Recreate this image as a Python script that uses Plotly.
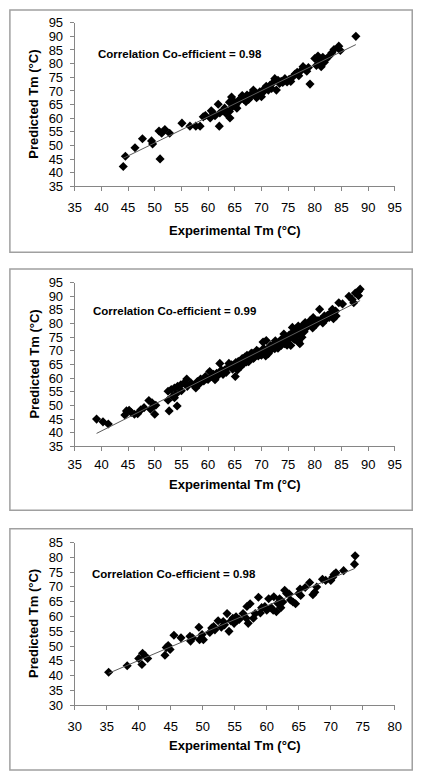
import numpy as np
import plotly.graph_objects as go

W, H = 426, 782

# ---------------- data ----------------
exp1 = [44.1, 44.5, 46.3, 47.7, 49.4, 49.6, 50.8, 51.0, 51.9, 51.3, 52.8, 55.1, 56.6, 57.7, 58.5,
        59.1, 59.5, 60.4, 60.6, 61.0, 61.3, 61.9, 62.1, 62.2, 62.8, 63.1, 63.4, 64.0, 64.1, 64.0,
        64.4, 64.6, 64.6, 64.9, 65.2, 65.4, 65.7, 65.9, 66.4, 66.7, 67.1, 67.3, 67.6, 67.9, 68.2,
        68.5, 68.8, 69.1, 69.4, 69.7, 70.0, 70.3, 70.6, 70.9, 71.3, 71.6, 71.9, 72.2, 72.5, 72.8,
        73.1, 73.4, 73.7, 74.0, 74.4, 74.8, 75.2, 75.5, 75.8, 76.3, 76.7, 77.0, 77.4, 77.8, 78.2,
        78.5, 78.8, 79.1, 80.0, 80.3, 80.6, 81.0, 81.2, 81.5, 81.8, 82.1, 82.7, 83.2, 83.6, 84.5,
        84.8, 87.7]
pred1 = [42.3, 46.1, 49.2, 52.5, 51.7, 50.6, 55.3, 45.1, 55.9, 54.5, 54.5, 58.2, 57.1, 57.1, 57.1,
         60.5, 61.0, 60.1, 62.7, 61.8, 60.9, 65.1, 57.1, 61.9, 62.7, 63.7, 61.7, 62.5, 60.1, 65.9,
         67.8, 64.3, 66.7, 65.5, 64.9, 63.7, 66.1, 66.9, 68.3, 66.9, 66.1, 68.5, 66.9, 67.9, 69.1,
         70.3, 69.1, 67.5, 68.5, 69.7, 67.9, 69.5, 70.9, 71.7, 70.3, 72.1, 70.9, 73.1, 74.5, 70.3,
         73.9, 72.7, 73.5, 73.1, 74.5, 73.3, 74.3, 73.5, 75.0, 76.2, 76.8, 75.6, 77.4, 78.9, 78.0,
         77.2, 78.6, 72.5, 81.9, 79.3, 82.8, 81.1, 78.9, 82.3, 80.5, 81.6, 82.8, 84.0, 85.2, 86.4,
         84.8, 90.0]

exp2 = [39.1, 40.3, 41.3, 44.4, 44.7, 45.2, 45.6, 46.2, 46.8, 47.4, 48.0, 48.9, 49.2, 49.5, 49.8,
        50.0, 50.2, 52.5, 52.7, 54.2, 52.5, 53.1, 53.4, 53.7, 54.0, 53.7, 54.3, 54.9, 55.5, 56.0,
        56.1, 56.8, 57.4, 57.7, 58.0, 58.6, 59.2, 59.5, 59.8, 60.3, 60.7, 61.0, 61.3, 61.6, 62.2,
        62.5, 62.8, 63.1, 63.4, 63.9, 64.2, 64.6, 64.9, 65.1, 65.2, 65.5, 65.8, 66.1, 66.4, 66.7,
        67.0, 67.3, 67.6, 67.9, 68.2, 68.5, 68.8, 69.1, 69.4, 69.7, 70.0, 70.3, 70.6, 70.9, 71.3,
        71.6, 71.9, 72.2, 72.5, 72.8, 73.1, 73.4, 73.7, 74.0, 74.2, 74.3, 74.6, 74.9, 75.2, 75.5,
        75.8, 75.8, 76.1, 76.3, 76.4, 76.7, 77.0, 77.2, 77.3, 77.6, 77.9, 78.2, 78.5, 78.8, 79.1,
        79.4, 79.7, 80.0, 80.3, 80.9, 81.2, 81.8, 82.1, 82.7, 83.0, 83.3, 83.6, 83.9, 84.0, 84.5,
        85.2, 86.4, 87.0, 87.3, 87.6, 88.2, 88.5, 88.2,
        55.0, 58.3, 60.0, 61.9, 63.7, 64.4, 65.6, 66.3, 66.9, 67.4, 68.0, 68.6, 69.3, 69.9, 70.4,
        71.0, 71.7, 72.3, 73.0, 73.6, 74.5, 75.1, 75.6, 76.0, 76.6, 77.1, 77.5, 78.0, 78.9, 79.6,
        80.6, 81.5, 82.4, 83.5, 63.0, 67.2, 70.8, 72.6, 74.8, 76.9]
pred2 = [45.0, 44.0, 43.2, 46.5, 48.0, 48.2, 47.4, 46.8, 47.0, 48.4, 49.2, 51.8, 48.6, 51.0, 49.8,
         46.8, 50.1, 51.9, 48.0, 49.8, 55.2, 55.8, 53.4, 52.8, 54.2, 56.4, 57.0, 57.6, 58.2, 59.7,
         57.0, 58.2, 57.2, 56.4, 58.8, 59.7, 59.0, 60.6, 59.7, 62.4, 60.6, 61.4, 59.4, 61.8, 65.4,
         63.0, 61.4, 63.0, 62.1, 65.4, 64.4, 63.3, 64.8, 60.6, 65.7, 63.0, 66.2, 64.2, 67.2, 65.4,
         66.6, 68.4, 66.0, 67.8, 69.2, 67.2, 68.8, 70.2, 68.1, 69.6, 68.4, 73.2, 70.2, 73.8, 69.0,
         71.4, 70.5, 72.2, 70.8, 72.6, 71.0, 73.4, 72.0, 74.4, 76.2, 72.6, 75.0, 73.8, 75.8, 72.0,
         78.6, 75.0, 76.8, 74.1, 78.0, 75.8, 73.2, 72.6, 77.4, 75.0, 79.2, 80.4, 78.6, 79.8, 81.0,
         79.2, 82.2, 80.4, 79.8, 85.2, 81.6, 82.8, 81.6, 82.2, 84.0, 85.2, 83.4, 84.6, 82.8, 87.6,
         87.2, 90.0, 88.8, 87.6, 91.2, 91.8, 92.6, 90.2,
         55.4, 57.8, 59.5, 61.1, 63.9, 64.9, 66.0, 65.2, 67.7, 66.5, 68.9, 67.6, 69.8, 68.7, 70.9,
         69.8, 71.9, 71.3, 72.3, 74.0, 73.2, 74.8, 76.3, 74.5, 77.3, 76.0, 78.9, 77.0, 79.9, 78.4,
         81.1, 80.2, 83.0, 81.8, 62.0, 65.9, 68.1, 73.7, 72.1, 79.1]

exp3 = [35.3, 38.2, 40.0, 40.5, 40.6, 41.0, 41.4, 44.1, 44.3, 44.6, 44.9, 45.5, 46.6, 48.0, 48.1,
        48.4, 49.4, 49.5, 49.9, 50.1, 51.1, 51.4, 51.7, 51.9, 52.4, 52.9, 53.2, 53.4, 53.8, 54.1,
        54.4, 54.7, 54.9, 55.2, 55.4, 55.7, 56.3, 56.8, 57.1, 56.9, 57.4, 57.9, 58.2, 58.7, 59.0,
        59.2, 59.7, 60.0, 60.3, 60.7, 61.0, 61.1, 61.5, 61.7, 62.0, 62.2, 62.5, 62.8, 63.1, 63.5,
        63.7, 64.1, 64.5, 65.0, 65.2, 65.3, 66.0, 66.7, 67.2, 67.5, 67.8, 68.7, 69.2, 70.0, 70.3,
        70.5, 70.8, 72.0, 73.7, 73.8]
pred3 = [41.2, 43.4, 45.8, 43.8, 47.6, 46.7, 45.8, 46.9, 49.5, 50.2, 48.9, 53.7, 52.8, 53.3, 51.7,
         52.8, 56.4, 52.2, 53.9, 52.2, 54.6, 56.1, 56.6, 55.5, 58.6, 56.4, 58.3, 57.2, 61.0, 55.0,
         58.5, 59.4, 57.7, 59.9, 58.8, 59.0, 61.0, 59.4, 57.7, 63.4, 64.3, 59.4, 61.0, 66.5, 61.2,
         63.0, 63.4, 62.1, 66.0, 63.0, 62.1, 66.7, 61.6, 64.5, 66.0, 63.0, 64.9, 68.9, 67.8, 67.6,
         65.6, 64.9, 64.3, 67.8, 69.3, 67.1, 69.8, 71.5, 67.4, 68.2, 70.0, 72.6, 72.2, 72.2, 73.3,
         74.2, 74.8, 75.5, 77.7, 80.5]

corr_labels = ["Correlation Co-efficient = 0.98",
               "Correlation Co-efficient = 0.99",
               "Correlation Co-efficient = 0.98"]
x_title = "Experimental Tm (°C)"
y_title = "Predicted Tm (°C)"
x_ranges = [[35, 95], [35, 95], [30, 80]]
y_ranges = [[35, 95], [35, 95], [30, 85]]

datasets = [(exp1, pred1), (exp2, pred2), (exp3, pred3)]

# ---------------- layout geometry (pixels) ----------------
plot_x = (70, 401)
plots_y = [(16, 183), (281, 448), (546, 712)]
boxes = [(3, 419, 3, 250), (3, 419, 267, 513), (3, 419, 532, 778)]
corr_pos = [(92, 48), (87, 310), (86, 578)]
xtitle_y = [228, 487, 753]
xlabel_standoff = [5, 2, 5]

def px(x):
    return x / W

def py(y):
    return 1 - y / H

fig = go.Figure()
FONT = "Liberation Sans, Arial, sans-serif"
axis_common = dict(showline=True, linecolor="#868686", linewidth=1, ticks="outside",
                   ticklen=4, tickcolor="#868686", showgrid=False, zeroline=False,
                   dtick=5, tickfont=dict(family=FONT, size=13, color="black"),
                   fixedrange=True)

for i, (xs, ys) in enumerate(datasets):
    n = "" if i == 0 else str(i + 1)
    xa, ya = "x" + n, "y" + n
    xs_a = np.array(xs)
    ys_a = np.array(ys)
    fig.add_trace(go.Scatter(x=xs, y=ys, mode="markers", xaxis=xa, yaxis=ya,
                             marker=dict(symbol="diamond", size=7, color="black",
                                         line=dict(width=0)),
                             showlegend=False, cliponaxis=False))
    slope, icpt = np.polyfit(xs_a, ys_a, 1)
    tx = np.array([xs_a.min(), xs_a.max()])
    fig.add_trace(go.Scatter(x=tx, y=slope * tx + icpt, mode="lines", xaxis=xa, yaxis=ya,
                             line=dict(color="#5a5a5a", width=1), showlegend=False))
    y0, y1 = plots_y[i]
    fig.layout["xaxis" + n] = dict(axis_common, domain=[px(plot_x[0]), px(plot_x[1])],
                                   range=x_ranges[i], anchor=ya, tick0=0,
                                   ticklabelstandoff=xlabel_standoff[i])
    fig.layout["yaxis" + n] = dict(axis_common, domain=[py(y1), py(y0)],
                                   range=y_ranges[i], anchor=xa, tick0=0,
                                   ticklabelstandoff=4)
    bx0, bx1, by0, by1 = boxes[i]
    fig.add_shape(type="rect", xref="paper", yref="paper", x0=px(bx0), x1=px(bx1),
                  y0=py(by1), y1=py(by0), line=dict(color="#a0a0a0", width=1.5),
                  fillcolor="rgba(0,0,0,0)", layer="below")
    cx, cy = corr_pos[i]
    fig.add_annotation(text="<b>" + corr_labels[i] + "</b>", xref="paper", yref="paper",
                       x=px(cx), y=py(cy), xanchor="left", yanchor="middle", showarrow=False,
                       font=dict(family=FONT, size=11.5, color="black"))
    fig.add_annotation(text="<b>" + x_title + "</b>", xref="paper", yref="paper",
                       x=px((plot_x[0] + plot_x[1]) / 2), y=py(xtitle_y[i]),
                       xanchor="center", yanchor="middle", showarrow=False,
                       font=dict(family=FONT, size=13, color="black"))
    fig.add_annotation(text="<b>" + y_title + "</b>", xref="paper", yref="paper",
                       x=px(28), y=py((y0 + y1) / 2), textangle=-90,
                       xanchor="center", yanchor="middle", showarrow=False,
                       font=dict(family=FONT, size=13, color="black"))

fig.update_layout(width=W, height=H, margin=dict(l=0, r=0, t=0, b=0),
                  paper_bgcolor="white", plot_bgcolor="white", showlegend=False)

fig.write_html("out.html", config={"displayModeBar": False},
               post_script="document.body.style.margin='0px';"
                           "document.body.style.overflow='hidden';")
